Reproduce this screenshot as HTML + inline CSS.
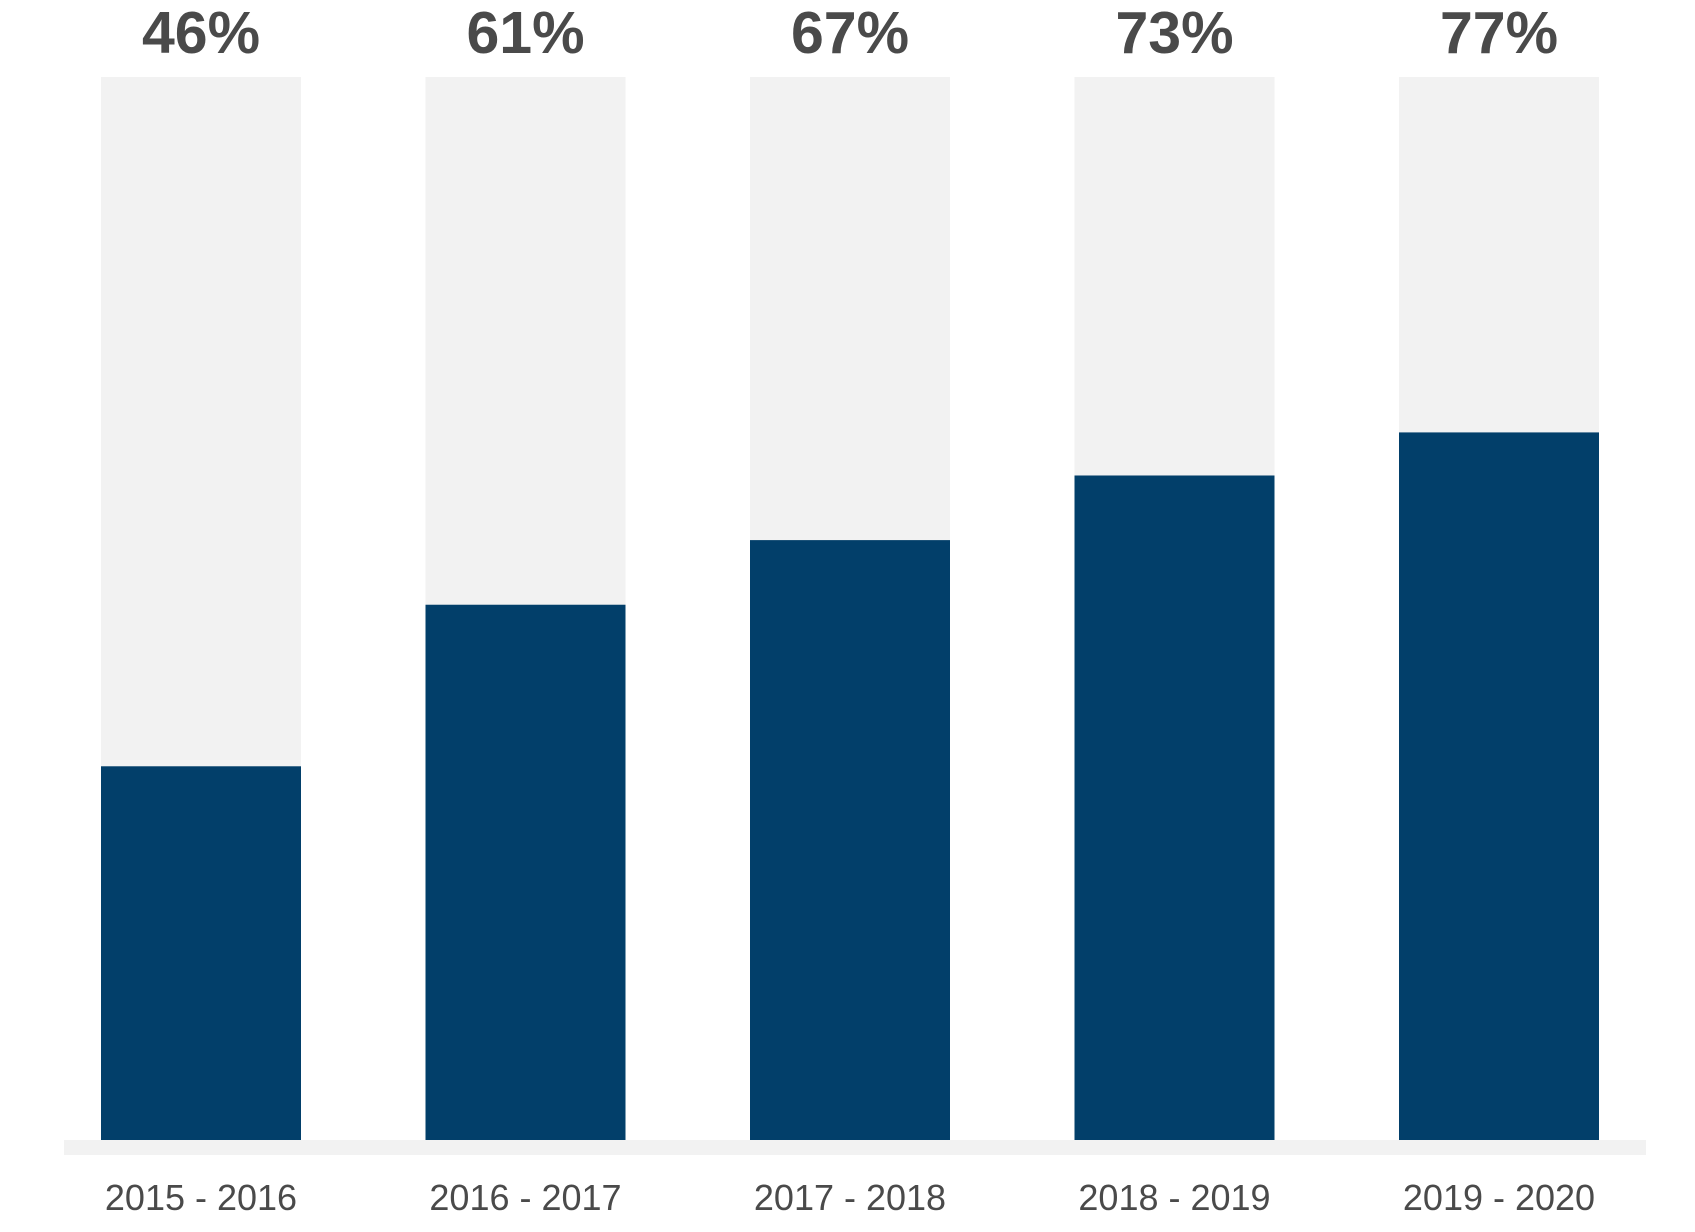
<!DOCTYPE html>
<html><head><meta charset="utf-8"><style>
html,body{margin:0;padding:0;background:#fff;}
svg{display:block;font-family:"Liberation Sans",sans-serif;}
</style></head><body>
<svg id="chart" width="1695" height="1232" viewBox="0 0 1695 1232">
<rect x="64" y="1140" width="1582" height="15" fill="#f2f2f2"/>
<g id="bars"></g>
</svg>
<script>
const categories = ["2015 - 2016","2016 - 2017","2017 - 2018","2018 - 2019","2019 - 2020"];
const values = [46,61,67,73,77];
const valueLabels = ["46%","61%","67%","73%","77%"];
const yMin = 11.3, yMax = 110;
const plotTop = 77, plotBottom = 1140;
const firstLeft = 101, step = 324.5, barW = 200;
function y(v){ return plotBottom - (v - yMin) / (yMax - yMin) * (plotBottom - plotTop); }
function x(i){ return firstLeft + i * step; }
const NS = "http://www.w3.org/2000/svg";
const g = document.getElementById("bars");
categories.forEach((c, i) => {
  const bg = document.createElementNS(NS, "rect");
  
  
  bg.setAttribute("x", x(i)); bg.setAttribute("y", y(yMax));
  bg.setAttribute("width", barW); bg.setAttribute("height", y(yMin) - y(yMax));
  bg.setAttribute("fill", "#f2f2f2");
  g.appendChild(bg);
  const b = document.createElementNS(NS, "rect");
  
  
  b.setAttribute("x", x(i)); b.setAttribute("y", y(values[i]));
  b.setAttribute("width", barW); b.setAttribute("height", y(yMin) - y(values[i]));
  b.setAttribute("fill", "#023f6a");
  g.appendChild(b);
  const t = document.createElementNS(NS, "text");
  
  
  t.setAttribute("x", x(i) + barW / 2); t.setAttribute("y", 53);
  t.setAttribute("text-anchor", "middle"); t.setAttribute("font-size", "59");
  t.setAttribute("font-weight", "bold"); t.setAttribute("fill", "#4a4a4a");
  t.textContent = valueLabels[i];
  g.appendChild(t);
  const l = document.createElementNS(NS, "text");
  
  
  l.setAttribute("x", x(i) + barW / 2); l.setAttribute("y", 1210);
  l.setAttribute("text-anchor", "middle"); l.setAttribute("font-size", "36");
  l.setAttribute("fill", "#4a4a4a");
  l.textContent = c;
  g.appendChild(l);
});
</script>
</body></html>
